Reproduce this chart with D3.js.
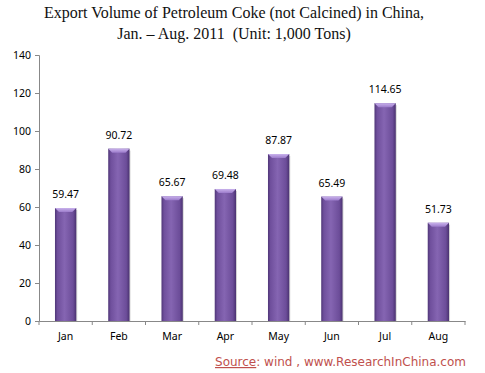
<!DOCTYPE html>
<html>
<head>
<meta charset="utf-8">
<script src="https://cdn.jsdelivr.net/npm/d3@7"></script>
<style>
  body { margin: 0; background: #fff; }
  svg { display: block; }
</style>
</head>
<body>
<script>
// chart data
var months = ["Jan", "Feb", "Mar", "Apr", "May", "Jun", "Jul", "Aug"];
var volumes = [59.47, 90.72, 65.67, 69.48, 87.87, 65.49, 114.65, 51.73];
var yTicks = [0, 20, 40, 60, 80, 100, 120, 140];
var titleLines = ["Export Volume of Petroleum Coke (not Calcined) in China,",
                  "Jan. \u2013 Aug. 2011  (Unit: 1,000 Tons)"];

var width = 485, height = 373;
var plotLeft = 39, plotRight = 465, plotTop = 55, plotBottom = 321;
var labelFont = "'Noto Sans', 'Open Sans', sans-serif";

var svg = d3.select("body").append("svg")
  .attr("width", width)
  .attr("height", height);

// gradients for the bevelled bars
var defs = svg.append("defs");
var body = defs.append("linearGradient").attr("id", "barBody")
  .attr("x1", 0).attr("x2", 1).attr("y1", 0).attr("y2", 0);
body.append("stop").attr("offset", "0%").attr("stop-color", "#4f3677");
body.append("stop").attr("offset", "12%").attr("stop-color", "#6f4f9c");
body.append("stop").attr("offset", "45%").attr("stop-color", "#8565b2");
body.append("stop").attr("offset", "85%").attr("stop-color", "#6c4d99");
body.append("stop").attr("offset", "100%").attr("stop-color", "#4a3270");

var topG = defs.append("linearGradient").attr("id", "barTop")
  .attr("x1", 0).attr("x2", 0).attr("y1", 0).attr("y2", 1);
topG.append("stop").attr("offset", "0%").attr("stop-color", "#c9b2ec");
topG.append("stop").attr("offset", "100%").attr("stop-color", "#9c7ccb");

var x = d3.scaleBand()
  .domain(months)
  .range([plotLeft, plotRight])
  .paddingInner(0.6)
  .paddingOuter(0.3);

var y = d3.scaleLinear()
  .domain([0, 140])
  .range([plotBottom, plotTop]);

// title
svg.append("g").selectAll("text")
  .data(titleLines)
  .enter().append("text")
  .attr("x", 234)
  .attr("y", function(d, i) { return 18 + i * 21; })
  .attr("text-anchor", "middle")
  .attr("xml:space", "preserve")
  .style("white-space", "pre")
  .style("font-family", "'Liberation Serif', 'Times New Roman', serif")
  .style("font-size", "16px")
  .style("fill", "#111")
  .text(function(d) { return d; });

// y axis
var yAxis = svg.append("g")
  .attr("transform", "translate(" + plotLeft + ",0)")
  .call(d3.axisLeft(y).tickValues(yTicks).tickSize(4).tickPadding(4));
yAxis.select(".domain").attr("stroke", "#888");
yAxis.selectAll(".tick line").attr("stroke", "#888");
yAxis.selectAll("text")
  .style("font-family", labelFont)
  .style("font-size", "10.5px")
  .style("fill", "#000");

// x axis, ticks sit between categories
var xAxis = svg.append("g")
  .attr("transform", "translate(0," + plotBottom + ")")
  .call(d3.axisBottom(x).tickSize(0).tickPadding(12).tickSizeOuter(0));
xAxis.select(".domain").attr("stroke", "#888");
xAxis.selectAll("text")
  .style("font-family", labelFont)
  .style("font-size", "10.5px")
  .style("fill", "#000");

var bounds = d3.range(months.length + 1).map(function(i) {
  return plotLeft + i * (plotRight - plotLeft) / months.length;
});
xAxis.selectAll(".sep")
  .data(bounds)
  .enter().append("line")
  .attr("class", "sep")
  .attr("x1", function(d) { return d; })
  .attr("x2", function(d) { return d; })
  .attr("y1", 0).attr("y2", 4)
  .attr("stroke", "#888");

// bars
var bars = svg.append("g").selectAll("g")
  .data(volumes)
  .enter().append("g");

bars.append("rect")
  .attr("x", function(d, i) { return x(months[i]) + 1; })
  .attr("y", function(d) { return y(d) + 2; })
  .attr("width", x.bandwidth())
  .attr("height", function(d) { return y(0) - y(d) - 2; })
  .attr("fill", "#bbb")
  .attr("opacity", 0.6);

bars.append("rect")
  .attr("x", function(d, i) { return x(months[i]); })
  .attr("y", function(d) { return y(d); })
  .attr("width", x.bandwidth())
  .attr("height", function(d) { return y(0) - y(d); })
  .attr("fill", "url(#barBody)");

bars.append("path")
  .attr("d", function(d, i) {
    var x0 = x(months[i]), x1 = x0 + x.bandwidth(), yt = y(d);
    return "M" + x0 + "," + yt + "L" + x1 + "," + yt +
      "L" + (x1 - 4) + "," + (yt + 4) + "L" + (x0 + 4) + "," + (yt + 4) + "Z";
  })
  .attr("fill", "url(#barTop)");

bars.append("text")
  .attr("x", function(d, i) { return x(months[i]) + x.bandwidth() / 2; })
  .attr("y", function(d) { return y(d) - 10; })
  .attr("text-anchor", "middle")
  .style("font-family", labelFont)
  .style("font-size", "10.5px")
  .style("fill", "#000")
  .text(function(d) { return d.toFixed(2); });

// source note
var src = svg.append("text")
  .attr("x", 466)
  .attr("y", 366)
  .attr("text-anchor", "end")
  .style("font-family", "'DejaVu Sans', Verdana, sans-serif")
  .style("font-size", "12px")
  .style("fill", "#c0504d");
src.append("tspan").style("text-decoration", "underline").text("Source");
src.append("tspan").text(":  wind , www.ResearchInChina.com");
</script>
</body>
</html>
